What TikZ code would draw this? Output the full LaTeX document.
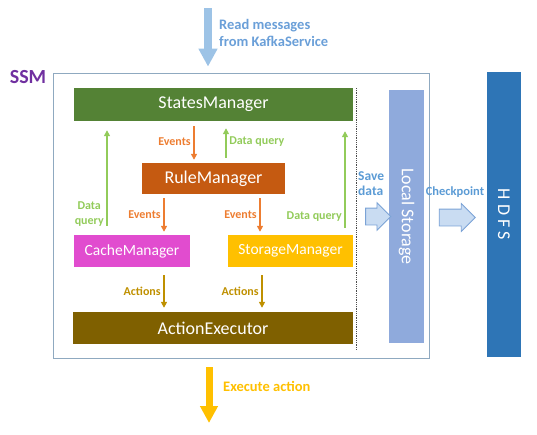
\documentclass[tikz,border=0pt]{standalone}
\usepackage{fontspec}
\setmainfont{Carlito}
\usepackage{xcolor}
\usetikzlibrary{arrows.meta}
\usetikzlibrary{shapes.arrows}
\usetikzlibrary{positioning}

\definecolor{ssmline}{HTML}{8FA9C0}
\definecolor{ssmpurple}{HTML}{7030A0}
\definecolor{statesgreen}{HTML}{548235}
\definecolor{ruleorange}{HTML}{C55A11}
\definecolor{cachepink}{HTML}{E14CCF}
\definecolor{storageyellow}{HTML}{FFC000}
\definecolor{execbrown}{HTML}{7F6000}
\definecolor{localblue}{HTML}{8FAADC}
\definecolor{hdfsblue}{HTML}{2E75B6}
\definecolor{evtorange}{HTML}{ED7D31}
\definecolor{qrygreen}{HTML}{92CB5A}
\definecolor{actgold}{HTML}{BF9000}
\definecolor{readblue}{HTML}{9DC3E6}
\definecolor{readtext}{HTML}{6A9FD8}
\definecolor{saveblue}{HTML}{5B9BD5}
\definecolor{arrowfill}{HTML}{C9DCF2}
\definecolor{arrowline}{HTML}{7BA3D6}
\definecolor{execyellow}{HTML}{FFC000}

\begin{document}
\begin{tikzpicture}[x=1pt,y=-1pt,
    box/.style={inner sep=0pt,text=white,font=\fontsize{18}{20}\selectfont},
    smallbox/.style={box,font=\fontsize{15.5}{17}\selectfont},
    lbl/.style={inner sep=2.5pt,font=\bfseries\fontsize{12}{15}\selectfont},
    evt/.style={draw=evtorange,line width=1.6pt,-{Triangle[length=6pt,width=6pt]}},
    qry/.style={draw=qrygreen,line width=1.6pt,-{Triangle[length=6pt,width=6pt]}},
    act/.style={draw=actgold,line width=1.6pt,-{Triangle[length=6pt,width=6pt]}},
    blockarrow/.style={single arrow,single arrow head extend=5.5pt,inner sep=8pt,
      fill=arrowfill,draw=arrowline,line width=0.8pt}]
        \useasboundingbox (0,0) rectangle (537,434);
        %% The SSM frame and its blocks.
        \node[draw=ssmline,line width=0.8pt,minimum width=376pt,minimum height=285pt] (ssm) at (241,215.5) {};
        \node[font=\bfseries\fontsize{20}{22}\selectfont,text=ssmpurple] (ssmlabel) at (28,77) {SSM};
        \node[box,fill=statesgreen,minimum width=279pt,minimum height=33pt] (states) at (213.5,104.5) {StatesManager};
        \node[box,fill=ruleorange,minimum width=143pt,minimum height=31pt] (rule) at (213.5,178.5) {RuleManager};
        \node[smallbox,fill=cachepink,minimum width=116pt,minimum height=32pt] (cache) at (132,251) {CacheManager};
        \node[smallbox,fill=storageyellow,minimum width=125pt,minimum height=32pt] (storage) at (290.5,251) {StorageManager};
        \node[box,fill=execbrown,minimum width=280pt,minimum height=32pt] (executor) at (213,328) {ActionExecutor};
        \node[box,fill=localblue,minimum width=253pt,minimum height=35pt,rotate=-90] (local) at (406.5,216.5) {Local Storage};
        \node[box,fill=hdfsblue,minimum width=285pt,minimum height=34pt,rotate=-90] (hdfs) at (504,214.5) {H D F S};
        \draw[densely dotted,line width=0.8pt,black!70] (356,88) -- (356,350);

        %% Events and queries.
        \draw[evt,shorten <=5pt,shorten >=3pt] ([xshift=-19.5pt]states.south) -- node[lbl,left,text=evtorange] {Events} ([xshift=-19.5pt]rule.north);
        \draw[qry,shorten <=5pt,shorten >=7pt] ([xshift=12.5pt]rule.north) -- node[lbl,right,text=qrygreen] {Data query} ([xshift=12.5pt]states.south);
        \draw[qry,shorten <=9pt,shorten >=9pt] ([xshift=-25pt]cache.north) -- node[lbl,left,pos=0.18,align=center,text=qrygreen] {Data\\query} ([xshift=-25pt]cache.north |- states.south);
        \draw[qry,shorten <=7pt,shorten >=10pt] ([xshift=54.5pt]storage.north) -- node[lbl,left,pos=0.16,text=qrygreen] {Data query} ([xshift=54.5pt]storage.north |- states.south);
        \draw[evt,shorten <=4pt,shorten >=3pt] ([xshift=32pt]cache.north |- rule.south) -- node[lbl,left,text=evtorange] {Events} ([xshift=32pt]cache.north);
        \draw[evt,shorten <=4pt,shorten >=3pt] ([xshift=-30.5pt]storage.north |- rule.south) -- node[lbl,left,text=evtorange] {Events} ([xshift=-30.5pt]storage.north);
        \draw[act,shorten <=8pt,shorten >=4pt] ([xshift=32pt]cache.south) -- node[lbl,left,pos=0.55,text=actgold] {Actions} ([xshift=32pt]cache.south |- executor.north);
        \draw[act,shorten <=8pt,shorten >=4pt] ([xshift=-28.5pt]storage.south) -- node[lbl,left,pos=0.55,text=actgold] {Actions} ([xshift=-28.5pt]storage.south |- executor.north);

        %% Saving and checkpointing.
        \node[anchor=west,align=left,inner sep=0pt,font=\bfseries\fontsize{13.5}{15}\selectfont,text=saveblue] (savelabel) at (358,184) {Save\\data};
        \node[blockarrow,minimum height=24pt] (savearrow) at (374,216.5) {};
        \node[font=\bfseries\fontsize{12.5}{14}\selectfont,text=saveblue,inner sep=0pt] (cplabel) at (455,192) {Checkpoint};
        \node[blockarrow,minimum height=36pt] (cparrow) at (453,217.5) {};

        %% Input and output.
        \coordinate (kafka) at (208,8);
        \draw[line width=7.5pt,readblue,-{Triangle[length=18pt,width=18pt]}] (kafka) -- ([xshift=-33pt,yshift=6pt]ssm.north);
        \node[anchor=west,align=left,inner sep=0pt,font=\bfseries\fontsize{14.5}{17}\selectfont,text=readtext] (readlabel) at (219,33) {Read messages\\from KafkaService};
        \coordinate (exec) at (209,423);
        \draw[line width=7pt,execyellow,-{Triangle[length=17pt,width=17pt]}] ([xshift=-32pt,yshift=-9pt]ssm.south) -- (exec);
        \node[anchor=west,inner sep=0pt,font=\bfseries\fontsize{14.5}{16}\selectfont,text=execyellow] (execlabel) at (223,386) {Execute action};
\end{tikzpicture}
\end{document}
